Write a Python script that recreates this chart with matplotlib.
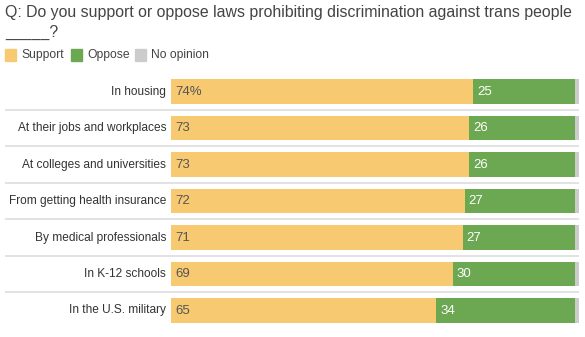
import matplotlib
matplotlib.use("Agg")
import matplotlib.pyplot as plt
from matplotlib.patches import Rectangle

categories = ["In housing", "At their jobs and workplaces", "At colleges and universities",
              "From getting health insurance", "By medical professionals",
              "In K-12 schools", "In the U.S. military"]
support = [74, 73, 73, 72, 71.5, 69, 65]
oppose = [25, 26, 26, 27, 27.5, 30, 34]
no_opinion = [1, 1, 1, 1, 1, 1, 1]
support_labels = ["74%", "73", "73", "72", "71", "69", "65"]
oppose_labels = ["25", "26", "26", "27", "27", "30", "34"]

C_SUP = "#F7CA72"
C_OPP = "#6CA751"
C_NO = "#CCCCCC"
TXT = "#333333"

plt.rcParams['font.family'] = ['Liberation Sans', 'DejaVu Sans']

W, H = 585, 337
fig = plt.figure(figsize=(W / 100, H / 100), dpi=100)

x0, x1 = 171, 579
pitch = 36.5
top = 91.5 - pitch / 2
bottom = top + pitch * 7
ax = fig.add_axes([x0 / W, (H - bottom) / H, (x1 - x0) / W, (bottom - top) / H])
ax.set_xlim(0, 100)
ax.set_ylim(6.5, -0.5)
ax.axis("off")

ys = list(range(len(categories)))
h = 0.68
ax.barh(ys, support, height=h, color=C_SUP)
ax.barh(ys, oppose, left=support, height=h, color=C_OPP)
left2 = [s + o for s, o in zip(support, oppose)]
ax.barh(ys, no_opinion, left=left2, height=h, color=C_NO)

pad = 4 / (x1 - x0) * 100
for y, cat, s, sl, ol in zip(ys, categories, support, support_labels, oppose_labels):
    ax.text(-5 / (x1 - x0) * 100, y, cat, ha="right", va="center", fontsize=8.6,
            color=TXT, clip_on=False)
    ax.text(pad, y, sl, ha="left", va="center", fontsize=9.5, color="#555555")
    ax.text(s + pad, y, ol, ha="left", va="center", fontsize=9.5, color="white")

tr = ax.get_yaxis_transform()
for i in range(len(categories) - 1):
    ax.plot([(5 - x0) / (x1 - x0), 1.0], [i + 0.5, i + 0.5], transform=tr,
            color="#DDDDDD", lw=1.2, clip_on=False, solid_capstyle="butt")

fig.text(5 / W, 1 - 13 / H, "Q: Do you support or oppose laws prohibiting discrimination against trans people",
         ha="left", va="center", fontsize=11.4, color="#444444")
fig.text(5 / W, 1 - 32 / H, "_____?", ha="left", va="center", fontsize=11.4, color="#444444")

legend_items = [("Support", C_SUP, 5), ("Oppose", C_OPP, 71), ("No opinion", C_NO, 135)]
ly = 55
for name, col, lx in legend_items:
    fig.patches.append(Rectangle((lx / W, 1 - (ly + 5.5) / H), 11 / W, 11 / H,
                                 transform=fig.transFigure, color=col))
    fig.text((lx + 16) / W, 1 - ly / H, name, ha="left", va="center", fontsize=8.7, color="#444444")

fig.savefig("out.png", dpi=100)
